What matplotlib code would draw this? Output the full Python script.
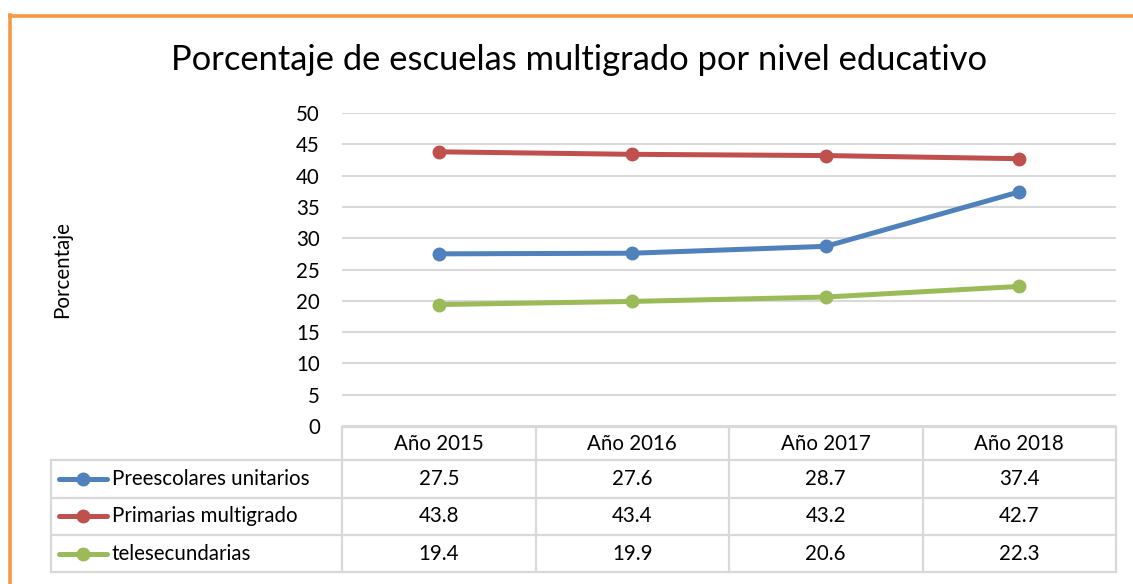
import matplotlib.pyplot as plt
from matplotlib.lines import Line2D
import numpy as np

# datos del grafico
years = ["Año 2015", "Año 2016", "Año 2017", "Año 2018"]
series_names = ["Preescolares unitarios", "Primarias multigrado", "telesecundarias"]
preescolares = [27.5, 27.6, 28.7, 37.4]
primarias = [43.8, 43.4, 43.2, 42.7]
telesecundarias = [19.4, 19.9, 20.6, 22.3]
series_values = [preescolares, primarias, telesecundarias]
series_colors = ["#4f81bd", "#c0504d", "#9bbb59"]

plt.rcParams["font.family"] = ["Lato", "DejaVu Sans"]
fs = 14.8

W, H = 1133, 584
fig = plt.figure(figsize=(W / 100, H / 100), dpi=100)

def fx(px):
    return px / W

def fy(py):
    return 1 - py / H

# plot area
ax = fig.add_axes([fx(342), fy(426), fx(1116) - fx(342), fy(113) - fy(426)])
x = np.arange(len(years))
for vals, col in zip(series_values, series_colors):
    ax.plot(x, vals, color=col, lw=3.6, marker="o", markersize=9,
            solid_capstyle="round", zorder=3)

ax.set_xlim(-0.5, len(years) - 0.5)
ax.set_ylim(0, 50)
ax.set_yticks(np.arange(0, 51, 5))
ax.set_xticks([])
ax.grid(axis="y", color="#d9d9d9", lw=1.5)
ax.set_axisbelow(True)
for s in ax.spines.values():
    s.set_visible(False)
ax.tick_params(axis="y", length=0, pad=16, labelsize=fs)

fig.text(fx(579), fy(60), "Porcentaje de escuelas multigrado por nivel educativo",
         ha="center", va="center", fontsize=24.8)
fig.text(fx(62), fy(270), "Porcentaje", rotation=90, ha="center", va="center",
         fontsize=fs)

# tabla de datos
grid_col = "#d9d9d9"
col_edges = [342 + i * 193.5 for i in range(len(years) + 1)]
row_edges = [427, 460, 497.5, 535, 572]
left_edge = 51

def hline(x0, x1, y):
    fig.add_artist(Line2D([fx(x0), fx(x1)], [fy(y), fy(y)], color=grid_col, lw=1.6))

def vline(x, y0, y1):
    fig.add_artist(Line2D([fx(x), fx(x)], [fy(y0), fy(y1)], color=grid_col, lw=1.6))

hline(col_edges[0], col_edges[-1], row_edges[0])
for y in row_edges[1:]:
    hline(left_edge, col_edges[-1], y)
for cx in col_edges:
    vline(cx, row_edges[0], row_edges[-1])
vline(left_edge, row_edges[1], row_edges[-1])

for i, yr in enumerate(years):
    cx = (col_edges[i] + col_edges[i + 1]) / 2
    fig.text(fx(cx), fy((row_edges[0] + row_edges[1]) / 2), yr,
             ha="center", va="center", fontsize=fs)

for r, (name, vals, col) in enumerate(zip(series_names, series_values, series_colors)):
    cy = (row_edges[r + 1] + row_edges[r + 2]) / 2
    fig.add_artist(Line2D([fx(59), fx(107)], [fy(cy), fy(cy)], color=col, lw=3.6,
                          solid_capstyle="round"))
    fig.add_artist(Line2D([fx(83)], [fy(cy)], color=col, marker="o", markersize=9))
    fig.text(fx(112), fy(cy), name, ha="left", va="center", fontsize=fs)
    for i, v in enumerate(vals):
        cx = (col_edges[i] + col_edges[i + 1]) / 2
        fig.text(fx(cx), fy(cy), f"{v:.1f}", ha="center", va="center", fontsize=fs)

# borde naranja
border = "#f79646"
fig.add_artist(Line2D([fx(9.5), fx(9.5)], [fy(15), 0], color=border, lw=2.6))
fig.add_artist(Line2D([fx(9.5), 1], [fy(15.5), fy(15.5)], color=border, lw=2.6))

fig.savefig("out.png", dpi=100)
